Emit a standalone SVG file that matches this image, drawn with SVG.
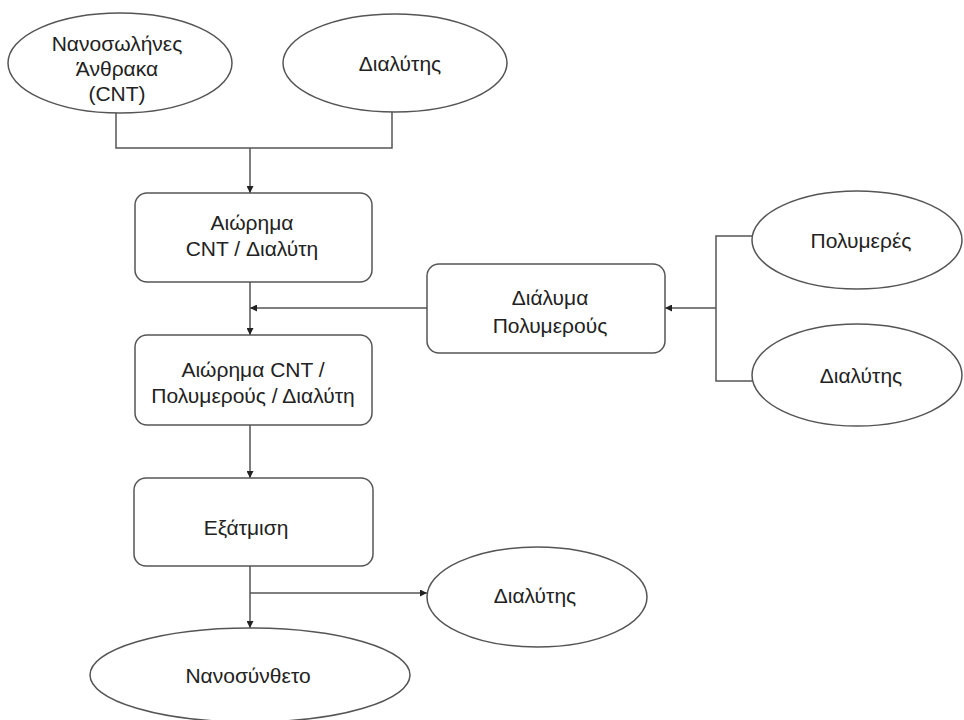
<svg xmlns="http://www.w3.org/2000/svg" width="964" height="720" viewBox="0 0 964 720">
<defs>
<style>
.n{fill:#fff;stroke:#555;stroke-width:1.5}
.t{font-family:"Liberation Sans",Arial,sans-serif;font-size:21px;fill:#222;text-anchor:middle}
.c{fill:none;stroke:#555;stroke-width:1.5}
</style>
<marker id="ah" viewBox="0 0 10 10" refX="10" refY="5" markerWidth="7" markerHeight="7" markerUnits="userSpaceOnUse" orient="auto">
<path d="M0,0 L10,5 L0,10 Z" fill="#222"/>
</marker>
</defs>
<rect width="964" height="720" fill="#fff"/>
<g id="connectors">
<path class="c" d="M116,112 V148 H392 V112"/>
<path class="c" d="M250,148 V193" marker-end="url(#ah)"/>
<path class="c" d="M250,282 V335" marker-end="url(#ah)"/>
<path class="c" d="M427,308 H250" marker-end="url(#ah)"/>
<path class="c" d="M753,236 H716 V381 H753"/>
<path class="c" d="M716,308 H665" marker-end="url(#ah)"/>
<path class="c" d="M250,425 V478" marker-end="url(#ah)"/>
<path class="c" d="M250,566 V628" marker-end="url(#ah)"/>
<path class="c" d="M250,593 H427" marker-end="url(#ah)"/>
</g>
<g id="cnt">
<ellipse class="n" cx="120" cy="63" rx="112" ry="50"/>
<text class="t" x="117" y="51">Νανοσωλήνες</text>
<text class="t" x="117" y="76">Άνθρακα</text>
<text class="t" x="117" y="101">(CNT)</text>
</g>
<g id="solvent1">
<ellipse class="n" cx="395" cy="63" rx="112" ry="49"/>
<text class="t" x="400" y="71">Διαλύτης</text>
</g>
<g id="suspension1">
<rect class="n" x="135" y="193" width="237" height="89" rx="12"/>
<text class="t" x="252" y="230">Αιώρημα</text>
<text class="t" x="252" y="256">CNT / Διαλύτη</text>
</g>
<g id="polysolution">
<rect class="n" x="427" y="264" width="238" height="89" rx="12"/>
<text class="t" x="550" y="305">Διάλυμα</text>
<text class="t" x="550" y="333">Πολυμερούς</text>
</g>
<g id="polymer">
<ellipse class="n" cx="857" cy="240" rx="105" ry="49"/>
<text class="t" x="861" y="248">Πολυμερές</text>
</g>
<g id="solvent2">
<ellipse class="n" cx="857" cy="375" rx="105" ry="51"/>
<text class="t" x="861" y="383">Διαλύτης</text>
</g>
<g id="suspension2">
<rect class="n" x="135" y="335" width="237" height="90" rx="12"/>
<text class="t" x="253" y="377">Αιώρημα CNT /</text>
<text class="t" x="253" y="403">Πολυμερούς / Διαλύτη</text>
</g>
<g id="evaporation">
<rect class="n" x="134" y="478" width="239" height="88" rx="12"/>
<text class="t" x="246" y="535">Εξάτμιση</text>
</g>
<g id="solvent3">
<ellipse class="n" cx="537" cy="597" rx="110" ry="50"/>
<text class="t" x="535" y="603">Διαλύτης</text>
</g>
<g id="nanocomposite">
<ellipse class="n" cx="250" cy="675" rx="160" ry="47"/>
<text class="t" x="248" y="683">Νανοσύνθετο</text>
</g>
</svg>
